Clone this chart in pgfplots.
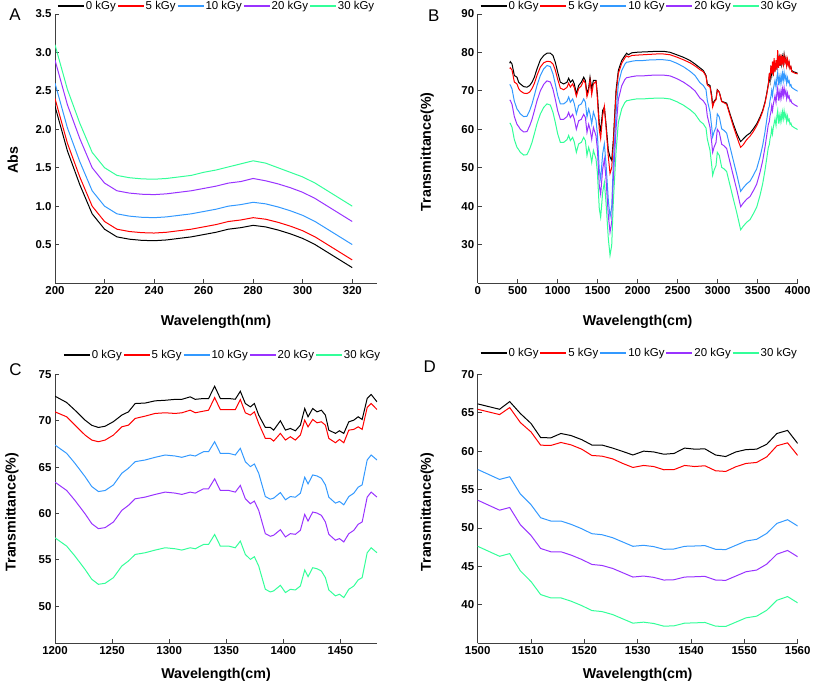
\documentclass[border=0pt]{standalone}
\usepackage{fontspec}
\setmainfont{Liberation Sans}
\usepackage{pgfplots}
\usepackage{pgfplotstable}
\pgfplotsset{compat=1.18}
\definecolor{cA}{RGB}{0,0,0}
\definecolor{cB}{RGB}{255,0,0}
\definecolor{cC}{RGB}{51,153,255}
\definecolor{cD}{RGB}{153,51,255}
\definecolor{cE}{RGB}{51,255,153}

\pgfplotstableread{
x k0 k5 k10 k20 k30
200 2.30 2.40 2.60 2.90 3.10
205 1.72 1.82 2.02 2.32 2.52
210 1.28 1.38 1.58 1.88 2.08
215 0.90 1.00 1.20 1.50 1.70
220 0.70 0.80 1.00 1.30 1.50
225 0.60 0.70 0.90 1.20 1.40
230 0.57 0.67 0.87 1.17 1.37
235 0.555 0.655 0.855 1.155 1.355
240 0.55 0.65 0.85 1.15 1.35
245 0.56 0.66 0.86 1.16 1.36
250 0.58 0.68 0.88 1.18 1.38
255 0.60 0.70 0.90 1.20 1.40
260 0.63 0.73 0.93 1.23 1.44
265 0.66 0.76 0.96 1.26 1.47
270 0.70 0.80 1.00 1.30 1.51
275 0.72 0.82 1.02 1.32 1.55
280 0.75 0.85 1.05 1.36 1.59
285 0.73 0.83 1.03 1.33 1.56
290 0.69 0.79 0.99 1.29 1.50
295 0.64 0.74 0.94 1.24 1.44
300 0.58 0.68 0.88 1.18 1.38
305 0.50 0.60 0.80 1.10 1.30
310 0.40 0.50 0.70 1.00 1.20
315 0.30 0.40 0.60 0.90 1.10
320 0.20 0.30 0.50 0.80 1.00
}\tabA

\pgfplotstableread{
x k0 k5 k10 k20 k30
400 77.2 75.8 71.65 67.65 61.65
408 77.6 76.0 71.5 67.5 61.5
429 77.0 75.4 70.5 66.5 60.5
458 74.0 72.3 67.3 63.3 57.3
491 73.55 71.8 65.3 61.3 55.3
512 72.25 70.6 64.7 60.7 54.7
533 71.8 70.0 64.0 60.0 54.0
575 71.1 69.4 63.3 59.3 53.3
616 70.95 69.3 63.4 59.4 53.4
650 71.4 69.7 64.9 60.9 54.9
679 72.25 70.6 66.6 62.6 56.6
708 73.55 71.9 68.8 64.8 58.8
741 75.7 74.0 71.4 67.4 61.4
783 78.05 76.2 74.0 70.0 64.0
825 79.2 77.3 75.7 71.7 65.7
866 79.8 77.7 76.6 72.6 66.6
908 79.8 77.6 76.3 72.3 66.3
941 79.2 77.0 74.4 70.4 64.4
970 77.45 75.4 71.8 67.8 61.8
1000 74.85 73.0 68.8 64.8 58.8
1033 72.25 70.7 66.6 62.6 56.6
1075 71.8 70.3 66.6 62.6 56.6
1116 72.25 70.9 67.3 63.3 57.3
1137 73.3 72.0 68.4 64.4 58.4
1158 72.25 71.0 67.05 63.05 57.05
1187 72.85 71.8 67.9 63.9 57.9
1208 71.8 70.8 66.6 62.6 56.6
1233 69.2 68.6 64.0 60.0 54.0
1262 71.4 70.6 66.2 62.2 56.2
1295 72.25 71.3 66.6 62.6 56.6
1325 73.55 72.8 67.9 63.9 57.9
1346 72.7 71.9 67.05 63.05 57.05
1366 69.2 68.5 63.2 59.2 53.2
1387 70.8 70.0 65.3 61.3 55.3
1404 73.55 72.8 64.0 60.0 54.0
1425 70.5 69.0 61.4 57.4 51.4
1446 72.7 71.8 64.5 60.5 54.5
1479 72.7 72.5 62.3 58.3 52.3
1496 69.2 68.0 58.8 54.8 48.8
1520 61.4 59.8 49.3 45.3 39.3
1537 59.7 57.6 47.1 43.1 37.1
1562 64.9 63.5 53.6 49.6 43.6
1583 65.75 66.0 56.2 52.2 46.2
1604 61.4 60.5 51.0 47.0 41.0
1633 54.5 52.8 41.5 37.5 31.5
1654 52.8 48.5 37.2 33.2 27.2
1675 51.9 50.0 39.8 35.8 29.8
1695 57.1 56.0 51.0 47.0 41.0
1729 70.1 69.0 64.0 60.0 54.0
1758 75.3 74.5 71.8 67.8 61.8
1800 77.9 77.2 75.3 71.3 65.3
1841 79.2 78.6 77.0 73.0 67.0
1862 79.8 79.1 77.45 73.45 67.45
1883 79.4 78.8 77.5 73.5 67.5
1925 79.9 79.2 77.7 73.7 67.7
1987 80.04 79.3 77.9 73.9 67.9
2070 80.13 79.4 77.9 73.9 67.9
2154 80.2 79.5 78.05 74.05 68.05
2237 80.3 79.6 78.1 74.1 68.1
2320 80.3 79.6 78.1 74.1 68.1
2404 80.04 79.4 77.9 73.9 67.9
2487 79.4 78.8 77.2 73.2 67.2
2570 78.75 78.1 76.3 72.3 66.3
2654 77.9 77.3 75.1 71.1 65.1
2716 77.0 76.5 74.0 70.0 64.0
2779 75.97 75.5 72.1 68.1 62.1
2820 75.3 75.0 71.4 67.4 61.4
2854 74.0 73.8 70.3 66.3 60.3
2870 71.8 71.5 67.5 63.5 57.5
2904 71.4 71.0 64.5 60.5 54.5
2925 68.8 68.2 60.6 56.6 50.6
2937 66.2 65.8 58.0 54.0 48.0
2954 67.3 67.0 59.3 55.3 49.3
2979 67.9 67.7 60.6 56.6 50.6
2995 70.3 70.2 64.0 60.0 54.0
3020 69.65 69.6 63.2 59.2 53.2
3050 67.3 67.2 60.1 56.1 50.1
3079 67.05 66.9 59.7 55.7 49.7
3112 66.8 66.5 59.0 55.0 49.0
3154 64.0 63.6 55.4 51.4 45.4
3195 61.4 60.8 51.9 47.9 41.9
3237 59.0 58.2 48.4 44.4 38.4
3270 57.5 56.2 45.4 41.4 35.4
3287 56.8 55.3 43.85 39.85 33.85
3320 57.5 56.0 44.8 40.8 34.8
3362 58.4 57.3 45.8 41.8 35.8
3404 59.0 58.2 46.5 42.5 36.5
3445 60.1 59.4 48.0 44.0 38.0
3487 61.4 60.9 49.7 45.7 39.7
3529 63.2 62.8 52.8 48.8 42.8
3562 64.9 64.6 55.8 51.8 45.8
3591 67.05 66.8 59.3 55.3 49.3
3612 69.2 69.0 62.3 58.3 52.3
3633 71.8 71.5 65.3 61.3 55.3
3645 73.8 74.6 66.0 62.0 56.0
3654 72.5 73.0 67.5 63.5 57.5
3665 75.5 76.5 68.5 64.5 58.5
3675 74.0 74.5 70.1 66.1 60.1
3685 76.5 77.6 68.8 64.8 58.8
3695 74.85 74.0 70.5 66.5 60.5
3705 77.5 78.5 71.5 67.5 61.5
3716 75.5 75.0 72.7 68.7 62.7
3729 77.0 78.0 71.0 67.0 61.0
3740 76.0 75.5 73.5 69.5 63.5
3750 79.5 80.6 74.85 70.85 64.85
3760 76.5 76.0 71.5 67.5 61.5
3770 78.5 79.0 73.5 69.5 63.5
3780 76.5 76.5 72.0 68.0 62.0
3791 79.0 79.5 74.0 70.0 64.0
3800 77.0 76.8 72.5 68.5 62.5
3810 78.8 79.0 74.5 70.5 64.5
3820 77.2 77.0 72.8 68.8 62.8
3830 79.4 79.0 74.8 70.8 64.8
3841 77.5 77.3 73.0 69.0 63.0
3852 78.5 78.5 74.0 70.0 64.0
3862 76.8 76.5 72.0 68.0 62.0
3873 78.0 78.2 73.4 69.4 63.4
3883 76.8 76.6 72.2 68.2 62.2
3893 77.3 77.5 72.6 68.6 62.6
3904 75.9 75.8 71.3 67.3 61.3
3915 76.2 76.3 71.6 67.6 61.6
3925 75.3 75.0 70.9 66.9 60.9
3945 75.0 74.8 70.6 66.6 60.6
3966 74.85 74.6 70.3 66.3 60.3
3985 74.7 74.5 70.1 66.1 60.1
4000 74.6 74.4 69.9 65.9 59.9
}\tabB

\pgfplotstableread{
x k0 k5 k10 k20 k30
1200 72.64 70.95 67.37 63.37 57.37
1210.2 71.96 70.42 66.48 62.48 56.48
1217.5 71.13 69.52 65.40 61.40 55.40
1226.3 70.06 68.45 63.97 59.97 53.97
1232.2 69.50 67.91 62.90 58.90 52.90
1238 69.27 67.73 62.36 58.36 52.36
1243.9 69.40 67.91 62.47 58.47 52.47
1251.2 69.90 68.45 63.08 59.08 53.08
1258.5 70.60 69.34 64.33 60.33 54.33
1264.3 70.95 69.52 64.87 60.87 54.87
1270.2 71.85 70.24 65.58 61.58 55.58
1278.9 71.90 70.49 65.76 61.76 55.76
1287.7 72.14 70.78 66.05 62.05 56.05
1296.5 72.20 70.85 66.30 62.30 56.30
1305.3 72.30 70.78 66.19 62.19 56.19
1311.1 72.30 70.85 66.05 62.05 56.05
1318.4 72.57 71.13 66.30 62.30 56.30
1322.8 72.30 70.85 66.19 62.19 56.19
1330.1 72.39 71.03 66.66 62.66 56.66
1334.5 72.39 71.13 66.66 62.66 56.66
1339.8 73.71 72.49 67.73 63.73 57.73
1344.8 72.39 71.20 66.48 62.48 56.48
1352.1 72.39 71.20 66.48 62.48 56.48
1357.9 72.31 71.20 66.30 62.30 56.30
1362.3 73.17 72.28 67.02 63.02 57.02
1366.7 71.85 70.85 65.58 61.58 55.58
1371.1 71.49 70.60 65.05 61.05 55.05
1374.6 71.85 70.95 65.33 61.33 55.33
1378.4 70.60 69.70 64.33 60.33 54.33
1384.2 69.27 68.09 61.82 57.82 51.82
1388.6 69.27 68.09 61.54 57.54 51.54
1391.5 68.98 67.80 61.65 57.65 51.65
1397.4 69.99 68.63 62.25 58.25 52.25
1401.8 68.98 67.91 61.47 57.47 51.47
1406.1 69.16 68.27 61.82 57.82 51.82
1410.5 68.91 67.91 61.75 57.75 51.75
1414.9 69.52 68.45 62.18 58.18 52.18
1418.7 71.31 70.06 63.90 59.90 53.90
1421.6 70.42 69.34 63.18 59.18 53.18
1425.7 71.31 70.13 64.15 60.15 54.15
1429.5 70.95 69.77 64.04 60.04 54.04
1433.3 71.13 69.88 63.79 59.79 53.79
1436.8 70.60 69.52 63.08 59.08 53.08
1439.8 68.98 68.09 61.75 57.75 51.75
1445.6 68.63 67.62 61.11 57.11 51.11
1449.1 68.91 67.98 61.29 57.29 51.29
1452.9 68.63 67.62 60.93 56.93 50.93
1457.3 69.88 68.98 61.82 57.82 51.82
1461.7 70.06 69.06 62.18 58.18 52.18
1465.5 70.42 69.34 62.83 58.83 52.83
1469 70.13 69.06 63.08 59.08 53.08
1473.4 72.39 71.42 65.76 61.76 55.76
1476.9 72.82 71.85 66.30 62.30 56.30
1482 72.03 71.20 65.76 61.76 55.76
}\tabC

\pgfplotstableread{
x k0 k5 k10 k20 k30
1500 66.15 65.45 57.62 53.62 47.62
1504.1 65.45 64.76 56.32 52.32 46.32
1506 66.45 65.67 56.67 52.67 46.67
1508 64.90 63.72 54.42 50.42 44.42
1510 63.60 62.50 53.03 49.03 43.03
1511.8 61.77 60.78 51.34 47.34 41.34
1513.7 61.73 60.74 50.91 46.91 40.91
1515.6 62.30 61.13 50.91 46.91 40.91
1517.5 62.03 60.82 50.48 46.48 40.48
1519.5 61.50 60.26 49.91 45.91 39.91
1521.4 60.80 59.44 49.26 45.26 39.26
1523.3 60.80 59.35 49.13 45.13 39.13
1525.3 60.40 59.00 48.74 44.74 38.74
1527.2 59.96 58.40 48.18 44.18 38.18
1529.1 59.50 57.88 47.62 43.62 37.62
1531.1 60.00 58.14 47.75 43.75 37.75
1533 59.90 58.00 47.58 43.58 37.58
1534.9 59.60 57.58 47.23 43.23 37.23
1536.8 59.70 57.60 47.27 43.27 37.27
1538.8 60.40 58.14 47.62 43.62 37.62
1540.7 60.26 58.00 47.66 43.66 37.66
1542.6 60.30 58.10 47.71 43.71 37.71
1544.6 59.50 57.45 47.23 43.23 37.23
1546.5 59.30 57.36 47.19 43.19 37.19
1548.4 59.90 57.97 47.75 43.75 37.75
1550.3 60.20 58.40 48.31 44.31 38.31
1552.3 60.26 58.53 48.53 44.53 38.53
1554.2 60.90 59.26 49.30 45.30 39.30
1556.1 62.30 60.70 50.60 46.60 40.60
1558.1 62.70 61.08 51.08 47.08 41.08
1560 61.00 59.44 50.26 46.26 40.26
}\tabD

\pgfplotsset{
  legend image code/.code={\draw[#1, line width=1.5bp] (0bp,0bp) -- (26bp,0bp);},
}
\pgfplotsset{
  panel/.style={
    scale only axis,
    height=269bp,
    axis x line*=bottom, axis y line*=left,
    axis line style={-, line width=0.9bp, color=black!75},
    tick align=inside, major tick length=4bp,
    tick style={line width=0.9bp, color=black!75},
    tick label style={font=\bfseries\fontsize{11.5}{13}\selectfont},
    label style={font=\bfseries\fontsize{14.3}{16}\selectfont},
    /pgf/number format/assume math mode=true,
    /pgf/number format/1000 sep={},
    legend columns=5,
    legend style={draw=none, fill=none, inner sep=0pt,
      at={(axis description cs:0,1)}, anchor=west, xshift=2bp, yshift=8bp,
      font=\fontsize{11.5}{13}\selectfont,
      nodes={inner sep=1.2bp},
      /tikz/every even column/.append style={column sep=0bp},
      /tikz/every odd column/.append style={column sep=0bp}},
    every axis plot/.append style={line width=1bp, mark=none},
  }
}

\begin{document}
\begin{tikzpicture}
\path[use as bounding box] (0,0) rectangle (813bp,685bp);

% Panel A
\begin{axis}[panel, at={(55bp,402bp)}, anchor=south west, width=322bp,
  xmin=200, xmax=330, ymin=0, ymax=3.5,
  xtick={200,220,...,320}, ytick={0.5,1.0,...,3.5},
  yticklabel style={/pgf/number format/fixed, /pgf/number format/fixed zerofill, /pgf/number format/precision=1},
  xlabel={Wavelength(nm)}, ylabel={Abs},
  xlabel style={at={(axis description cs:0.5,-0.145)}, anchor=center},
  ylabel style={at={(axis description cs:-0.131,0.457)}, anchor=center},
]
\addplot[cA] table[x=x,y=k0]{\tabA};
\addplot[cB] table[x=x,y=k5]{\tabA};
\addplot[cC] table[x=x,y=k10]{\tabA};
\addplot[cD] table[x=x,y=k20]{\tabA};
\addplot[cE] table[x=x,y=k30]{\tabA};
\legend{0 kGy,5 kGy,10 kGy,20 kGy,30 kGy}
\end{axis}

% Panel B
\begin{axis}[panel, at={(477.7bp,402bp)}, anchor=south west, width=320bp,
  xmin=0, xmax=4000, ymin=20, ymax=90,
  xtick={0,500,...,4000}, ytick={30,40,...,90},
  xlabel={Wavelength(cm)}, ylabel={Transmittance(\%)},
  xlabel style={at={(axis description cs:0.5,-0.145)}, anchor=center},
  ylabel style={at={(axis description cs:-0.158,0.488)}, anchor=center},
]
\addplot[cA] table[x=x,y=k0]{\tabB};
\addplot[cB] table[x=x,y=k5]{\tabB};
\addplot[cC] table[x=x,y=k10]{\tabB};
\addplot[cD] table[x=x,y=k20]{\tabB};
\addplot[cE] table[x=x,y=k30]{\tabB};
\legend{0 kGy,5 kGy,10 kGy,20 kGy,30 kGy}
\end{axis}

% Panel C
\begin{axis}[panel, at={(55bp,41.7bp)}, anchor=south west, width=322bp,
  xmin=1200, xmax=1482, ymin=46, ymax=75,
  xtick={1200,1250,...,1450}, ytick={50,55,...,75},
  xlabel={Wavelength(cm)}, ylabel={Transmittance(\%)},
  xlabel style={at={(axis description cs:0.5,-0.118)}, anchor=center},
  ylabel style={at={(axis description cs:-0.134,0.488)}, anchor=center},
  legend style={xshift=6bp, yshift=11.2bp},
]
\addplot[cA] table[x=x,y=k0]{\tabC};
\addplot[cB] table[x=x,y=k5]{\tabC};
\addplot[cC] table[x=x,y=k10]{\tabC};
\addplot[cD] table[x=x,y=k20]{\tabC};
\addplot[cE] table[x=x,y=k30]{\tabC};
\legend{0 kGy,5 kGy,10 kGy,20 kGy,30 kGy}
\end{axis}

% Panel D
\begin{axis}[panel, at={(477.7bp,41.7bp)}, anchor=south west, width=320bp,
  xmin=1500, xmax=1560, ymin=35, ymax=70,
  xtick={1500,1510,...,1560}, ytick={40,45,...,70},
  xlabel={Wavelength(cm)}, ylabel={Transmittance(\%)},
  xlabel style={at={(axis description cs:0.5,-0.118)}, anchor=center},
  ylabel style={at={(axis description cs:-0.158,0.488)}, anchor=center},
  legend style={yshift=13.3bp},
]
\addplot[cA] table[x=x,y=k0]{\tabD};
\addplot[cB] table[x=x,y=k5]{\tabD};
\addplot[cC] table[x=x,y=k10]{\tabD};
\addplot[cD] table[x=x,y=k20]{\tabD};
\addplot[cE] table[x=x,y=k30]{\tabD};
\legend{0 kGy,5 kGy,10 kGy,20 kGy,30 kGy}
\end{axis}

\node[font=\fontsize{17}{17}\selectfont] at (15bp,670.5bp) {A};
\node[font=\fontsize{17}{17}\selectfont] at (433.8bp,669.5bp) {B};
\node[font=\fontsize{17}{17}\selectfont] at (15.5bp,315bp) {C};
\node[font=\fontsize{17}{17}\selectfont] at (429.7bp,318.3bp) {D};
\end{tikzpicture}
\end{document}
